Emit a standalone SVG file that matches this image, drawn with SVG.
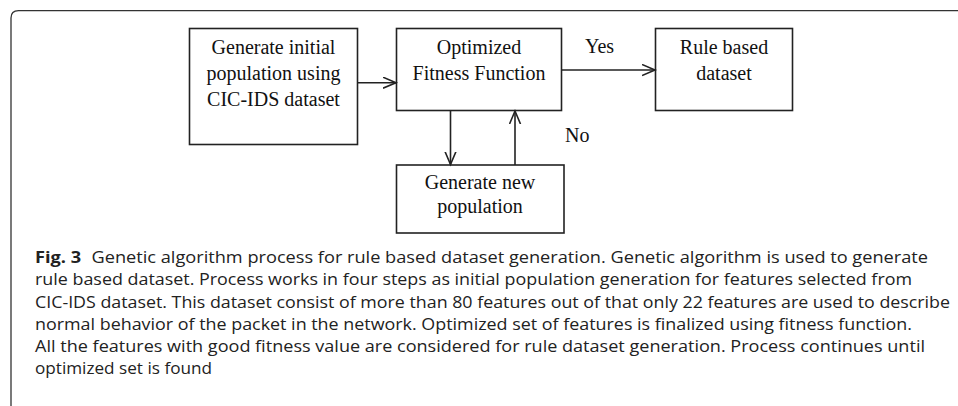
<svg xmlns="http://www.w3.org/2000/svg" width="958" height="406" viewBox="0 0 958 406">
<style>
.box{fill:#fff;stroke:#222;stroke-width:1.6}
.bt{font-family:"Liberation Serif","Times New Roman",serif;font-size:20px;fill:#111;text-anchor:middle}
.lb{font-family:"Liberation Serif","Times New Roman",serif;font-size:20px;fill:#111}
.cn{fill:none;stroke:#222;stroke-width:1.6}
.cap{font-family:"Open Sans","Noto Sans","DejaVu Sans",sans-serif;font-size:16px;fill:#222}
.frame{fill:none;stroke:#333;stroke-width:1.3}
</style>
<defs>
<marker id="ah" markerUnits="userSpaceOnUse" markerWidth="16" markerHeight="14" refX="13" refY="6" orient="auto">
<path d="M0,0.5 L13,6 L0,11.5" fill="none" stroke="#222" stroke-width="1.6"/>
</marker>
</defs>
<rect width="958" height="406" fill="#fff"/>
<path class="frame" d="M11,406 L11,18 Q11,10.7 18.5,10.7 L958,10.7"/>
<g id="node-init">
<rect class="box" x="189.5" y="28.5" width="168" height="116"/>
<text class="bt" x="273.5" y="53.5">Generate initial</text>
<text class="bt" x="273.5" y="79.5">population using</text>
<text class="bt" x="273.5" y="106">CIC-IDS dataset</text>
</g>
<g id="node-fitness">
<rect class="box" x="396.5" y="28.5" width="165" height="82"/>
<text class="bt" x="479" y="53.5">Optimized</text>
<text class="bt" x="479" y="80">Fitness Function</text>
</g>
<g id="node-rule">
<rect class="box" x="655.5" y="28.5" width="137" height="82"/>
<text class="bt" x="724" y="53.5">Rule based</text>
<text class="bt" x="724" y="80">dataset</text>
</g>
<g id="node-newpop">
<rect class="box" x="396.5" y="165" width="167.5" height="68"/>
<text class="bt" x="480" y="188.5">Generate new</text>
<text class="bt" x="480" y="213">population</text>
</g>
<g id="connectors">
<line class="cn" x1="357.5" y1="82.7" x2="396" y2="82.7" marker-end="url(#ah)"/>
<line class="cn" x1="561.5" y1="70" x2="655" y2="70" marker-end="url(#ah)"/>
<line class="cn" x1="450.5" y1="110.5" x2="450.5" y2="164.5" marker-end="url(#ah)"/>
<line class="cn" x1="515" y1="165" x2="515" y2="111" marker-end="url(#ah)"/>
<text class="lb" x="585" y="53">Yes</text>
<text class="lb" x="565" y="141.5">No</text>
</g>
<g id="caption">
<text class="cap" x="35" y="263" textLength="893" lengthAdjust="spacingAndGlyphs"><tspan font-weight="bold">Fig. 3</tspan><tspan dx="5"> Genetic algorithm process for rule based dataset generation. Genetic algorithm is used to generate</tspan></text>
<text class="cap" x="35" y="285" textLength="877" lengthAdjust="spacingAndGlyphs">rule based dataset. Process works in four steps as initial population generation for features selected from</text>
<text class="cap" x="35" y="308" textLength="915" lengthAdjust="spacingAndGlyphs">CIC-IDS dataset. This dataset consist of more than 80 features out of that only 22 features are used to describe</text>
<text class="cap" x="35" y="330" textLength="877" lengthAdjust="spacingAndGlyphs">normal behavior of the packet in the network. Optimized set of features is finalized using fitness function.</text>
<text class="cap" x="35" y="352" textLength="890" lengthAdjust="spacingAndGlyphs">All the features with good fitness value are considered for rule dataset generation. Process continues until</text>
<text class="cap" x="35" y="374" textLength="177" lengthAdjust="spacingAndGlyphs">optimized set is found</text>
</g>
</svg>
